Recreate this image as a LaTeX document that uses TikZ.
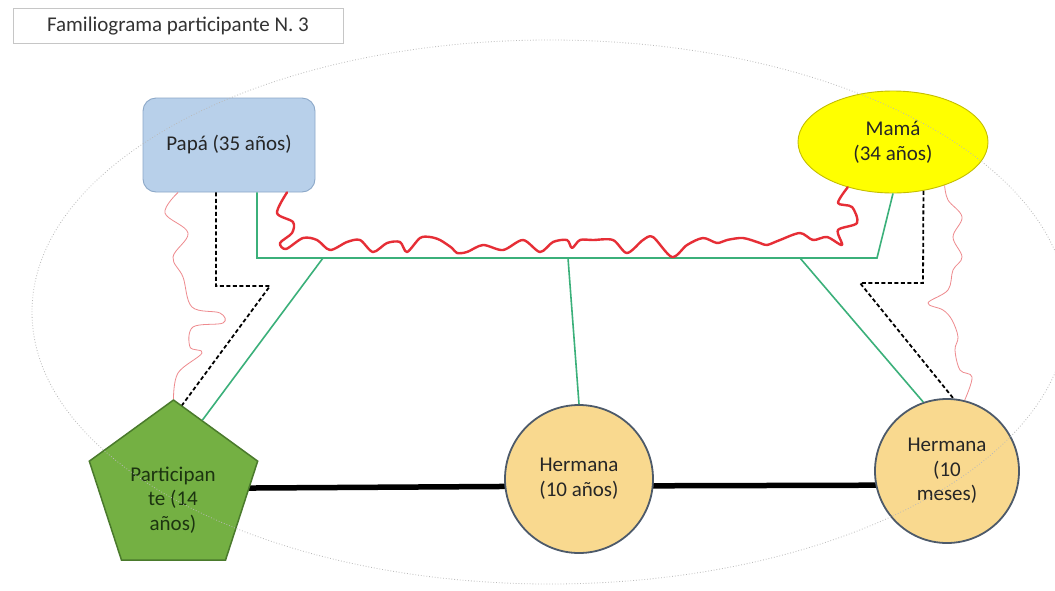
\documentclass[tikz,border=0pt]{standalone}
\usepackage{fontspec}
\setmainfont{Carlito}
\usetikzlibrary{shapes.geometric,backgrounds,calc}
\definecolor{papafill}{HTML}{B8D0EA}
\definecolor{papaline}{HTML}{8CA8C8}
\definecolor{mamafill}{HTML}{FFFF00}
\definecolor{mamaline}{HTML}{C4BE00}
\definecolor{partfill}{HTML}{74B043}
\definecolor{partline}{HTML}{4A7A2C}
\definecolor{parttxt}{HTML}{1C3410}
\definecolor{hermfill}{HTML}{F9D98F}
\definecolor{hermline}{HTML}{4D5A6A}
\definecolor{kidline}{HTML}{3BB07A}
\definecolor{redthick}{HTML}{E62E36}
\definecolor{redthin}{HTML}{EE8A8E}
\definecolor{txt}{HTML}{262626}
\begin{document}
\begin{tikzpicture}[x=1pt,y=-1pt,
  every node/.style={font=\fontsize{21}{24.6}\selectfont, text=txt, align=center, inner sep=0pt},
  titlebox/.style={rectangle, draw=gray!45, line width=0.8pt, minimum width=330pt, minimum height=35pt, text=black!80},
  papabox/.style={rectangle, rounded corners=13pt, fill=papafill, draw=papaline, line width=0.9pt, minimum width=172pt, minimum height=94pt},
  mamabox/.style={ellipse, fill=mamafill, draw=mamaline, line width=0.9pt, minimum width=190pt, minimum height=102pt},
  partbox/.style={regular polygon, regular polygon sides=5, fill=partfill, draw=partline, line width=1.5pt, minimum size=177pt},
  parttext/.style={text=parttxt},
  hermbox/.style={circle, fill=hermfill, draw=hermline, line width=1.8pt},
  kin/.style={line width=5.5pt, black},
  kid/.style={line width=1.6pt, kidline},
  dashline/.style={line width=1.8pt, black, dash pattern=on 4pt off 2.5pt},
  conflict/.style={line width=2.4pt, redthick, line join=round, line cap=round},
  distant/.style={line width=0.8pt, redthin, line join=round},
  outer/.style={line width=0.8pt, gray!55, dotted}
]
\clip (0,0) rectangle (1055,590);

% nodes
\node[titlebox] (title) at (178,26) {Familiograma participante N. 3};
\node[papabox] (Papa) at (229,145) {Papá (35 años)};
\node[mamabox] (Mama) at (893,142) {Mamá\\(34 años)};
\node[partbox] (P) at (173.5,488.5) {};
\node[parttext] (Ptext) at (173,500) {Participan\\te (14\\años)};
\node[hermbox, minimum size=148pt] (H1) at (579,479) {Hermana\\(10 años)};
\node[hermbox, minimum size=144pt] (H2) at (947,471) {Hermana\\(10\\meses)};

% white page and sibling line behind the shapes
\begin{pgfonlayer}{background}
\fill[white] (0,0) rectangle (1055,590);
\draw[kin] (P.center) -- ([yshift=-7pt]H1.center) -- ([yshift=-14pt]H2.center);
\end{pgfonlayer}

% children connectors
\coordinate (gA) at (257,258);
\coordinate (gB) at (877,258);
\coordinate (g1) at (323,258);
\coordinate (g2) at (568,258);
\coordinate (g3) at (800,258);
\draw[kid] ([xshift=28pt]Papa.south) -- (gA) -- (gB) -- (Mama.south);
\draw[kid] (g1) -- ($(P.corner 1)!0.34!(P.corner 5)$);
\draw[kid] (g2) -- (H1.north);
\draw[kid] (g3) -- (H2.109);

% dashed links
\coordinate (dp1) at (216,286);
\coordinate (dp2) at (270,286);
\draw[dashline] (Papa.south -| dp1) -- (dp1) -- (dp2) -- ($(P.corner 1)!0.1!(P.corner 5)$);
\coordinate (dm1) at (923,283);
\coordinate (dm2) at (860,283);
\draw[dashline] (Mama.-58) -- (dm1) -- (dm2) -- (H2.85);

% thin red wavy links
\draw[distant] plot[smooth, tension=0.6] coordinates {([xshift=-51pt]Papa.south) (165,213) (188,233) (173,257) (183,277) (192,307) (220,313) (223,323) (193,327) (190,347) (202,353) (178,373) (P.corner 1)};
\draw[distant] plot[smooth, tension=0.6] coordinates {(Mama.-40) (948,200) (962,217) (953,237) (962,257) (953,270) (948,290) (928,303) (943,310) (952,320) (958,337) (955,350) (960,370) (972,377) (H2.76)};

% thick red conflict line
\draw[conflict] plot[smooth, tension=0.5] coordinates {([xshift=58pt]Papa.south) (277,213) (293,222) (292,233) (280,243) (286,249) (303,238) (317,240) (330,250) (347,242) (360,240) (373,252) (387,243) (400,242) (407,252) (420,238) (430,237) (440,240) (452,248) (457,253) (467,252) (483,245) (503,250) (523,240) (540,252) (553,242) (567,240) (572,248) (580,240) (593,240) (613,240) (627,253) (643,240) (653,237) (672,257) (687,245) (703,238) (717,243) (727,240) (743,238) (760,243) (767,245) (780,240) (800,233) (813,240) (827,237) (842,245) (838,230) (857,223) (852,207) (838,203) (Mama.-135)};

% outer dotted ellipse
\draw[outer] (550,312) ellipse (518 and 272);
\end{tikzpicture}
\end{document}
